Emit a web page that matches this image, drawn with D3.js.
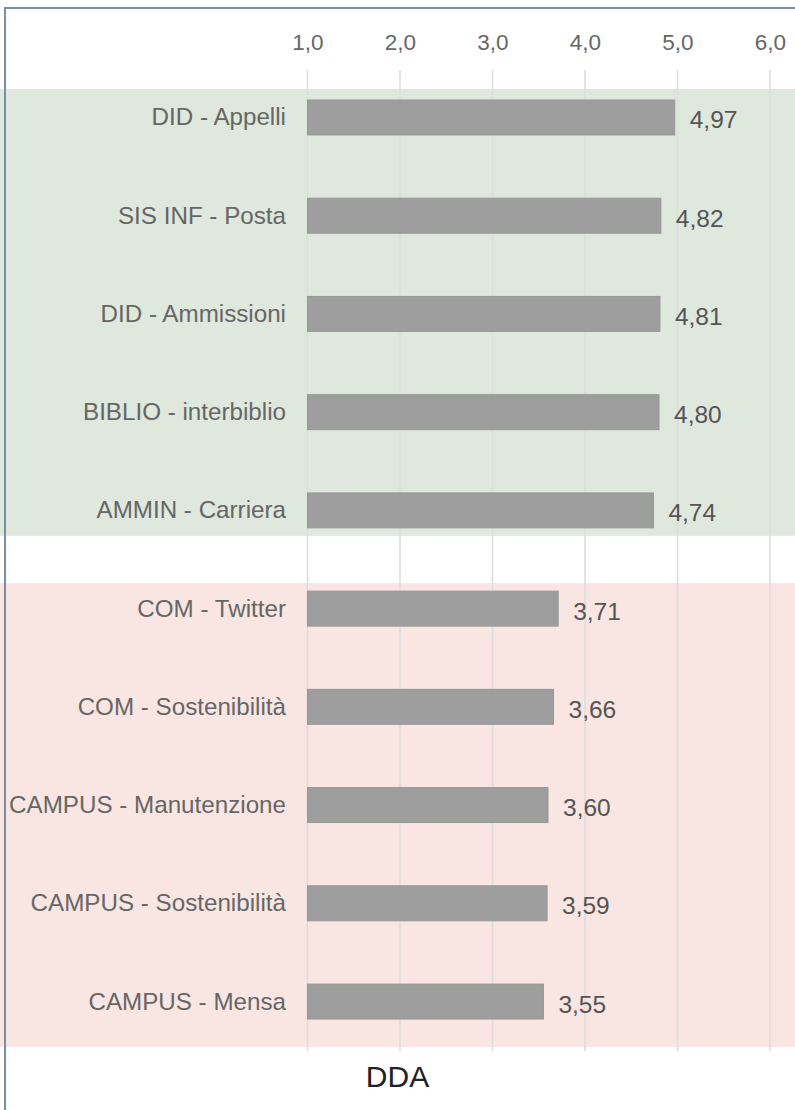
<!DOCTYPE html>
<html>
<head>
<meta charset="utf-8">
<script src="https://cdn.jsdelivr.net/npm/d3@7"></script>
<style>
  body { margin: 0; background: #fff; }
  svg { display: block; font-family: "Liberation Sans", Arial, sans-serif; }
</style>
</head>
<body>
<div id="chart"></div>
<script>
// data
const categories = [
  'DID - Appelli', 'SIS INF - Posta', 'DID - Ammissioni', 'BIBLIO - interbiblio', 'AMMIN - Carriera',
  'COM - Twitter', 'COM - Sostenibilità', 'CAMPUS - Manutenzione', 'CAMPUS - Sostenibilità', 'CAMPUS - Mensa'
];
const values = [4.97, 4.82, 4.81, 4.80, 4.74, 3.71, 3.66, 3.60, 3.59, 3.55];
const tickValues = [1, 2, 3, 4, 5, 6];
const groupTop = ['DID - Appelli', 'AMMIN - Carriera'];
const groupBottom = ['COM - Twitter', 'CAMPUS - Mensa'];
const axisTitle = 'DDA';

const width = 795, height = 1110;
const it = d3.formatLocale({ decimal: ',', thousands: '.', grouping: [3], currency: ['', '€'] });
const fmt1 = it.format('.1f'), fmt2 = it.format('.2f');

const svg = d3.select('#chart').append('svg')
  .attr('width', width)
  .attr('height', height);

const x = d3.scaleLinear().domain([1, 6]).range([307.5, 770]);
const y = d3.scaleBand().domain(categories)
  .range([70.5, 1048.5])
  .paddingInner(0.644)
  .paddingOuter(0.3);

// coloured group bands
const bands = [
  { cats: groupTop, fill: '#dfe8dd', padTop: 11, padBottom: 8 },
  { cats: groupBottom, fill: '#f9e6e2', padTop: 8, padBottom: 28 }
];
svg.append('g').selectAll('rect')
  .data(bands)
  .join('rect')
  .attr('x', 0)
  .attr('width', width)
  .attr('y', d => y(d.cats[0]) - d.padTop)
  .attr('height', d => y(d.cats[1]) + y.bandwidth() + d.padBottom - (y(d.cats[0]) - d.padTop))
  .attr('fill', d => d.fill);

// top axis with grid
const xAxis = d3.axisTop(x)
  .tickValues(tickValues)
  .tickFormat(fmt1)
  .tickSize(0)
  .tickPadding(0);

const ax = svg.append('g')
  .attr('transform', 'translate(0,50)')
  .call(xAxis);
ax.select('.domain').remove();
ax.selectAll('text')
  .attr('font-size', 22.5)
  .attr('fill', '#666')
  .attr('font-family', '"Liberation Sans", Arial, sans-serif');

svg.append('g').selectAll('line')
  .data(tickValues)
  .join('line')
  .attr('x1', d => x(d)).attr('x2', d => x(d))
  .attr('y1', 70).attr('y2', 1051)
  .attr('stroke', '#dedede')
  .attr('stroke-width', 1.6);

// bars
svg.append('g').selectAll('rect')
  .data(values)
  .join('rect')
  .attr('x', x(1))
  .attr('y', (d, i) => y(categories[i]))
  .attr('width', d => x(d) - x(1))
  .attr('height', y.bandwidth())
  .attr('fill', '#9e9e9e')
  .attr('stroke', '#979797')
  .attr('stroke-width', 1);

// category labels
svg.append('g').selectAll('text')
  .data(categories)
  .join('text')
  .attr('x', 286)
  .attr('y', d => y(d) + y.bandwidth() / 2 + 8)
  .attr('text-anchor', 'end')
  .attr('font-size', 24.2)
  .attr('fill', '#666')
  .text(d => d);

// value labels
svg.append('g').selectAll('text')
  .data(values)
  .join('text')
  .attr('x', d => x(d) + 15)
  .attr('y', (d, i) => y(categories[i]) + y.bandwidth() / 2 + 11)
  .attr('font-size', 24.5)
  .attr('fill', '#555')
  .text(d => fmt2(d));

// axis title
svg.append('text')
  .attr('x', 397.5)
  .attr('y', 1087)
  .attr('text-anchor', 'middle')
  .attr('font-size', 30)
  .attr('fill', '#222')
  .text(axisTitle);

// frame
svg.append('path')
  .attr('d', `M5,${height} L5,8 L${width},8`)
  .attr('fill', 'none')
  .attr('stroke', '#7a8fa6')
  .attr('stroke-width', 2);
</script>
</body>
</html>
